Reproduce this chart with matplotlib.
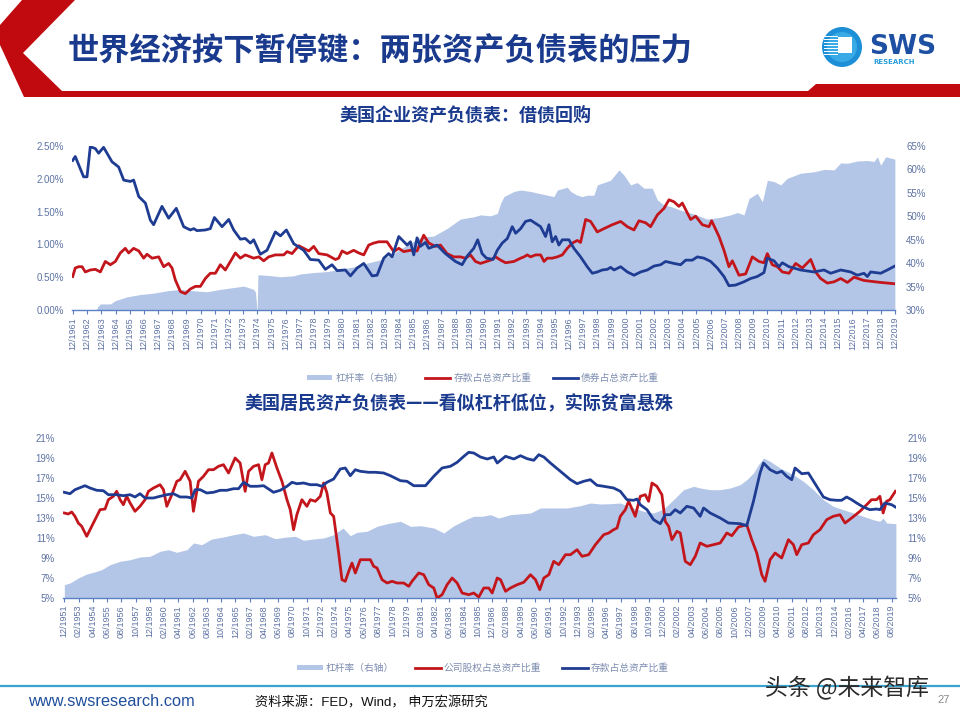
import matplotlib
matplotlib.use("Agg")
import matplotlib.pyplot as plt
from matplotlib.patches import Polygon, Circle, Rectangle, Patch
from matplotlib.lines import Line2D

CJK = ['Noto Sans CJK SC', 'DejaVu Sans']
LAT = ['Liberation Sans', 'DejaVu Sans']
MIX = ['Liberation Sans', 'Noto Sans CJK SC', 'DejaVu Sans']
plt.rcParams['font.family'] = CJK

# ---------------- data: chart 1 (US corporate balance sheet) ----------------
top_ticklabels = ["12/%d" % y for y in range(1961, 2020)]

bond_yr = [1961.90, 1962.08, 1962.67, 1962.91, 1963.14, 1963.50, 1963.73, 1964.08, 1964.67, 1965.14,
           1965.50, 1965.97, 1966.20, 1966.56, 1967.03, 1967.38, 1967.61, 1968.20, 1968.67, 1969.21,
           1969.73, 1970.20, 1970.44, 1970.67, 1971.26, 1971.61, 1971.90, 1972.44, 1972.91, 1973.26,
           1973.73, 1974.08, 1974.44, 1974.67, 1975.14, 1975.61, 1976.20, 1976.56, 1976.98, 1977.50,
           1978.20, 1978.67, 1979.26, 1979.73, 1980.20, 1980.56, 1981.14, 1981.50, 1981.97, 1982.44,
           1983.03, 1983.38, 1983.85, 1984.20, 1984.44, 1984.91, 1985.50, 1985.73, 1985.97, 1986.20,
           1986.44, 1986.79, 1987.03, 1987.61, 1988.20, 1988.91, 1989.38, 1989.73, 1990.20, 1990.48,
           1990.79, 1991.10, 1991.57, 1991.86, 1992.21, 1992.57, 1992.92, 1993.16, 1993.51, 1993.86,
           1994.21, 1994.57, 1994.92, 1995.27, 1995.51, 1995.74, 1995.98, 1996.21, 1996.45, 1996.92,
           1997.27, 1997.74, 1998.21, 1998.57, 1998.92, 1999.27, 1999.63, 1999.86, 2000.10, 2000.57,
           2001.04, 2001.51, 2001.98, 2002.45, 2002.92, 2003.39, 2003.74, 2004.33, 2004.80, 2005.16,
           2005.63, 2005.98, 2006.45, 2006.92, 2007.39, 2007.86, 2008.21, 2008.68, 2009.27, 2009.74,
           2010.21, 2010.68, 2010.92, 2011.39, 2011.74, 2011.98, 2012.45, 2013.27, 2014.21, 2014.92,
           2015.39, 2016.10, 2016.80, 2017.27, 2017.74, 2017.98, 2018.21, 2018.92, 2019.39, 2019.92]
bond_val = [2.28, 2.34, 2.03, 2.03, 2.49, 2.46, 2.39, 2.48, 2.26, 2.18,
            1.98, 1.96, 1.98, 1.73, 1.63, 1.37, 1.30, 1.58, 1.40, 1.55,
            1.27, 1.22, 1.24, 1.21, 1.22, 1.24, 1.41, 1.27, 1.38, 1.22,
            1.08, 1.09, 1.02, 1.07, 0.85, 0.91, 1.19, 1.13, 1.22, 1.01,
            0.91, 0.77, 0.76, 0.62, 0.69, 0.60, 0.61, 0.52, 0.64, 0.71,
            0.52, 0.53, 0.79, 0.86, 0.81, 1.12, 0.99, 1.04, 0.84, 1.10,
            0.97, 1.03, 0.94, 0.99, 0.86, 0.74, 0.69, 0.82, 0.94, 1.07,
            0.86, 0.79, 0.77, 0.91, 1.02, 1.09, 1.27, 1.17, 1.24, 1.35,
            1.37, 1.32, 1.27, 1.12, 1.30, 1.04, 1.12, 0.99, 1.07, 1.07,
            0.94, 0.81, 0.66, 0.56, 0.58, 0.61, 0.62, 0.65, 0.61, 0.66,
            0.58, 0.53, 0.58, 0.61, 0.67, 0.69, 0.74, 0.71, 0.69, 0.76,
            0.76, 0.81, 0.79, 0.74, 0.64, 0.51, 0.37, 0.38, 0.43, 0.48,
            0.51, 0.57, 0.79, 0.75, 0.66, 0.72, 0.66, 0.61, 0.58, 0.61,
            0.56, 0.61, 0.58, 0.53, 0.56, 0.51, 0.58, 0.56, 0.61, 0.67]

dep_yr = [1961.90, 1962.08, 1962.32, 1962.56, 1962.79, 1963.14, 1963.50, 1963.85, 1964.20, 1964.56,
          1964.91, 1965.26, 1965.61, 1965.85, 1966.20, 1966.56, 1966.91, 1967.14, 1967.50, 1967.97,
          1968.32, 1968.67, 1968.91, 1969.14, 1969.50, 1969.85, 1970.20, 1970.56, 1970.91, 1971.26,
          1971.61, 1971.97, 1972.32, 1972.67, 1973.03, 1973.38, 1973.73, 1974.08, 1974.44, 1974.67,
          1975.03, 1975.38, 1975.73, 1976.20, 1976.79, 1977.03, 1977.38, 1977.85, 1978.20, 1978.56,
          1978.91, 1979.26, 1979.85, 1980.44, 1980.67, 1980.91, 1981.26, 1981.73, 1982.08, 1982.44,
          1982.79, 1983.14, 1983.50, 1984.08, 1984.56, 1984.91, 1985.26, 1985.73, 1986.20, 1986.67,
          1987.03, 1987.50, 1987.85, 1988.32, 1988.79, 1989.26, 1989.61, 1989.97, 1990.32, 1990.68,
          1991.39, 1991.74, 1992.10, 1992.45, 1993.04, 1993.51, 1993.74, 1993.98, 1994.21, 1994.57,
          1994.92, 1995.16, 1995.39, 1995.74, 1996.10, 1996.45, 1996.80, 1997.16, 1997.51, 1997.74,
          1998.10, 1998.45, 1998.92, 1999.39, 1999.98, 2000.57, 2001.04, 2001.51, 2001.86, 2002.33,
          2002.68, 2003.16, 2003.63, 2003.98, 2004.33, 2004.68, 2004.92, 2005.51, 2005.86, 2006.33,
          2006.80, 2006.99, 2007.51, 2007.86, 2008.21, 2008.45, 2008.92, 2009.39, 2009.86, 2010.33,
          2010.68, 2010.92, 2011.27, 2011.63, 2011.98, 2012.45, 2012.92, 2013.39, 2013.98, 2014.33,
          2014.68, 2015.16, 2015.63, 2016.10, 2016.57, 2017.04, 2017.74, 2018.92, 2019.92]
dep_val = [0.51, 0.64, 0.66, 0.66, 0.58, 0.61, 0.62, 0.58, 0.74, 0.69,
           0.74, 0.87, 0.94, 0.87, 0.94, 0.90, 0.79, 0.85, 0.79, 0.81,
           0.66, 0.71, 0.64, 0.46, 0.28, 0.25, 0.32, 0.36, 0.36, 0.48,
           0.56, 0.56, 0.69, 0.61, 0.74, 0.87, 0.79, 0.84, 0.81, 0.79,
           0.81, 0.75, 0.81, 0.84, 0.84, 0.89, 0.86, 0.98, 0.94, 0.90,
           0.97, 0.86, 0.84, 0.77, 0.79, 0.90, 0.86, 0.91, 0.87, 0.84,
           0.99, 1.02, 1.04, 1.04, 0.89, 0.94, 0.89, 0.91, 0.90, 1.14,
           1.02, 0.97, 0.99, 0.86, 0.81, 0.81, 0.79, 0.84, 0.74, 0.71,
           0.76, 0.81, 0.76, 0.72, 0.74, 0.79, 0.81, 0.84, 0.81, 0.84,
           0.84, 0.74, 0.79, 0.79, 0.81, 0.84, 0.94, 1.02, 1.06, 1.03,
           1.38, 1.35, 1.19, 1.24, 1.30, 1.35, 1.27, 1.22, 1.36, 1.33,
           1.27, 1.45, 1.55, 1.68, 1.65, 1.58, 1.63, 1.38, 1.43, 1.30,
           1.27, 1.36, 1.12, 0.91, 0.66, 0.75, 0.53, 0.55, 0.81, 0.74,
           0.72, 0.86, 0.69, 0.66, 0.58, 0.56, 0.71, 0.64, 0.77, 0.58,
           0.48, 0.41, 0.43, 0.48, 0.42, 0.50, 0.45, 0.42, 0.40]

lev1_yr = [1961.85, 1963.50, 1963.66, 1963.85, 1964.56, 1964.91, 1965.73, 1966.67, 1967.61, 1968.56,
           1969.50, 1970.44, 1971.38, 1972.32, 1973.26, 1973.97, 1974.67, 1974.80, 1974.92, 1974.97,
           1975.10, 1975.61, 1976.56, 1977.50, 1977.97, 1978.91, 1979.85, 1980.79, 1981.73, 1982.67,
           1983.61, 1984.56, 1985.50, 1986.44, 1987.38, 1988.32, 1989.26, 1990.20, 1990.68, 1991.39,
           1991.86, 1992.10, 1992.33, 1993.04, 1993.51, 1994.21, 1995.39, 1995.86, 1996.10, 1996.80,
           1997.04, 1997.51, 1997.86, 1998.21, 1998.68, 1998.92, 1999.39, 1999.86, 2000.45, 2000.80,
           2001.27, 2001.74, 2002.21, 2002.80, 2003.16, 2003.63, 2004.10, 2004.80, 2005.74, 2006.68,
           2007.63, 2008.33, 2008.80, 2009.27, 2009.63, 2010.21, 2010.57, 2010.92, 2011.39, 2011.86,
           2012.33, 2013.27, 2014.21, 2014.92, 2015.63, 2016.10, 2016.57, 2017.27, 2017.98, 2018.45,
           2018.68, 2018.92, 2019.27, 2019.92]
lev1_val = [29.6, 29.6, 30.7, 31.3, 31.3, 32.0, 32.8, 33.3, 33.6, 34.1,
            34.4, 34.1, 33.9, 34.4, 34.8, 35.1, 34.4, 33.8, 29.5, 37.5,
            37.5, 37.4, 37.1, 37.3, 37.7, 38.0, 38.2, 38.7, 39.2, 40.0,
            40.7, 42.1, 43.9, 45.5, 45.8, 47.4, 49.4, 49.9, 50.3, 50.1,
            50.6, 52.8, 54.2, 55.3, 55.6, 55.3, 54.5, 54.2, 55.6, 56.2,
            55.3, 54.5, 54.2, 54.5, 54.5, 56.7, 57.2, 57.7, 59.9, 58.8,
            56.7, 57.2, 56.0, 56.0, 53.5, 52.4, 52.1, 51.3, 50.5, 49.4,
            49.8, 50.3, 50.8, 50.3, 53.8, 54.9, 53.1, 57.7, 57.4, 56.7,
            58.1, 59.2, 59.5, 60.0, 59.9, 61.4, 61.3, 61.8, 61.9, 61.7,
            62.7, 60.9, 62.7, 62.2]

# ---------------- data: chart 2 (US household balance sheet) ----------------
hdep_yr = [1951.92, 1952.38, 1952.79, 1953.61, 1954.02, 1954.57, 1955.11, 1955.52, 1956.20, 1956.75,
           1957.30, 1957.70, 1958.11, 1958.52, 1959.21, 1959.75, 1960.30, 1960.84, 1961.39, 1961.94,
           1962.35, 1962.62, 1963.03, 1963.57, 1964.12, 1964.67, 1965.21, 1965.76, 1966.17, 1966.58,
           1967.12, 1967.67, 1968.22, 1968.62, 1969.03, 1969.58, 1970.13, 1970.54, 1970.94, 1971.49,
           1972.04, 1972.58, 1972.99, 1973.40, 1973.95, 1974.49, 1974.90, 1975.31, 1975.72, 1976.13,
           1976.82, 1977.36, 1978.04, 1978.59, 1979.41, 1979.95, 1980.50, 1981.05, 1981.46, 1982.14,
           1982.82, 1983.50, 1984.05, 1984.60, 1985.00, 1985.41, 1985.96, 1986.51, 1987.05, 1987.33,
           1988.01, 1988.69, 1989.23, 1989.78, 1990.32, 1990.73, 1991.14, 1991.68, 1992.50, 1993.32,
           1993.86, 1994.40, 1994.95, 1995.49, 1996.04, 1996.85, 1997.40, 1997.94, 1998.49, 1998.76,
           1999.03, 1999.58, 2000.12, 2000.67, 2001.07, 2001.48, 2001.89, 2002.30, 2002.84, 2003.39,
           2003.93, 2004.21, 2004.75, 2005.57, 2006.25, 2007.20, 2007.74, 2008.29, 2008.83, 2009.11,
           2009.65, 2010.20, 2010.60, 2011.01, 2011.42, 2011.69, 2012.24, 2012.78, 2013.46, 2014.01,
           2014.55, 2015.10, 2015.50, 2015.91, 2016.32, 2016.73, 2017.27, 2017.82, 2018.36, 2018.63,
           2019.04, 2019.59, 2019.90]
hdep_val = [15.57, 15.43, 15.83, 16.23, 16.00, 15.77, 15.73, 15.33, 15.33, 15.23,
            15.33, 15.10, 15.43, 15.00, 15.00, 15.17, 15.33, 15.43, 15.10, 15.10,
            15.00, 15.83, 15.83, 15.50, 15.57, 15.77, 15.77, 15.93, 15.93, 16.57,
            16.17, 16.17, 16.23, 15.90, 15.57, 15.77, 16.17, 16.57, 16.43, 16.50,
            16.33, 16.33, 16.17, 16.57, 16.90, 17.90, 18.00, 17.23, 17.83, 17.67,
            17.57, 17.57, 17.50, 17.23, 16.73, 16.67, 16.23, 16.23, 16.23, 17.17,
            18.00, 18.17, 18.57, 19.17, 19.57, 19.50, 19.10, 18.90, 19.10, 18.50,
            19.17, 18.90, 19.23, 18.93, 18.77, 19.33, 19.10, 18.50, 17.67, 16.83,
            16.43, 16.67, 16.83, 16.27, 16.17, 16.00, 15.67, 14.83, 14.77, 14.90,
            14.33, 13.83, 12.83, 12.43, 13.33, 13.33, 13.83, 13.50, 14.17, 14.00,
            13.17, 14.00, 13.50, 13.00, 12.50, 12.43, 12.23, 14.67, 17.50, 18.50,
            17.83, 17.50, 17.67, 17.17, 16.83, 18.00, 17.43, 17.50, 16.17, 15.10,
            14.83, 14.77, 14.77, 15.10, 14.83, 14.50, 14.10, 13.83, 13.90, 13.83,
            14.50, 14.33, 14.10]

equity_yr = [1951.92, 1952.24, 1952.52, 1952.79, 1953.06, 1953.34, 1953.75, 1954.16, 1954.57, 1954.84,
             1955.25, 1955.52, 1955.93, 1956.20, 1956.48, 1956.75, 1957.02, 1957.30, 1957.70, 1958.11,
             1958.52, 1958.80, 1959.21, 1959.48, 1959.75, 1960.03, 1960.30, 1960.71, 1961.12, 1961.39,
             1961.80, 1962.21, 1962.48, 1962.89, 1963.30, 1963.71, 1964.12, 1964.53, 1964.94, 1965.35,
             1965.89, 1966.30, 1966.71, 1966.99, 1967.40, 1967.81, 1968.08, 1968.35, 1968.62, 1968.90,
             1969.31, 1969.72, 1970.13, 1970.40, 1970.67, 1970.94, 1971.35, 1971.76, 1972.04, 1972.45,
             1972.86, 1973.13, 1973.40, 1973.68, 1973.95, 1974.36, 1974.63, 1974.90, 1975.18, 1975.45,
             1975.72, 1976.13, 1976.54, 1976.95, 1977.22, 1977.50, 1977.91, 1978.32, 1978.73, 1979.14,
             1979.68, 1980.09, 1980.36, 1980.91, 1981.32, 1981.73, 1982.14, 1982.41, 1982.82, 1983.23,
             1983.64, 1984.05, 1984.46, 1985.00, 1985.41, 1985.82, 1986.23, 1986.64, 1986.92, 1987.33,
             1987.60, 1988.01, 1988.41, 1988.96, 1989.50, 1990.05, 1990.46, 1990.81, 1991.14, 1991.55,
             1991.95, 1992.36, 1992.91, 1993.32, 1993.86, 1994.27, 1994.81, 1995.36, 1996.04, 1996.45,
             1996.85, 1997.13, 1997.40, 1997.81, 1998.08, 1998.62, 1999.03, 1999.44, 1999.71, 1999.99,
             2000.39, 2000.80, 2001.07, 2001.35, 2001.62, 2002.03, 2002.30, 2002.71, 2003.12, 2003.53,
             2003.93, 2004.48, 2005.02, 2005.57, 2006.11, 2006.52, 2007.06, 2007.74, 2008.15, 2008.56,
             2008.97, 2009.24, 2009.65, 2010.06, 2010.60, 2011.15, 2011.56, 2011.83, 2012.24, 2012.78,
             2013.19, 2013.73, 2014.28, 2014.82, 2015.37, 2015.78, 2016.32, 2017.00, 2017.55, 2017.95,
             2018.36, 2018.63, 2018.90, 2019.18, 2019.45, 2019.90]
equity_val = [13.50, 13.40, 13.60, 13.17, 12.50, 12.17, 11.17, 12.17, 13.17, 13.83,
              13.90, 14.83, 15.17, 15.67, 14.83, 14.33, 15.17, 14.50, 13.67, 14.17,
              14.83, 15.67, 16.00, 16.17, 16.33, 15.83, 14.17, 15.33, 16.67, 16.83,
              17.67, 16.67, 13.67, 16.67, 17.17, 17.83, 17.83, 18.17, 18.33, 17.50,
              19.00, 18.50, 15.67, 17.67, 18.17, 18.33, 16.83, 18.33, 18.50, 19.50,
              18.00, 16.67, 14.83, 13.83, 11.83, 13.33, 14.83, 14.17, 14.83, 14.67,
              15.17, 16.50, 15.50, 13.50, 13.17, 9.50, 6.83, 6.67, 7.67, 8.50,
              7.50, 8.83, 8.83, 8.83, 8.17, 8.00, 6.83, 6.50, 6.67, 6.50,
              6.50, 6.17, 6.67, 7.50, 7.33, 6.33, 6.00, 5.00, 5.33, 6.33,
              7.00, 6.50, 5.50, 5.33, 5.50, 5.10, 6.00, 6.00, 5.50, 7.00,
              6.83, 5.67, 6.00, 6.33, 6.57, 7.33, 6.83, 5.83, 7.00, 7.33,
              8.67, 8.33, 9.33, 9.33, 9.83, 9.17, 9.33, 10.33, 11.33, 11.50,
              11.83, 12.00, 13.17, 13.83, 14.67, 13.17, 15.17, 15.33, 14.67, 16.50,
              16.17, 15.33, 12.67, 12.17, 10.83, 11.67, 11.50, 8.67, 8.33, 9.17,
              10.50, 10.17, 10.33, 10.50, 11.50, 11.23, 12.10, 12.33, 10.83, 9.50,
              7.33, 6.67, 8.83, 9.50, 9.00, 10.83, 10.33, 9.33, 10.33, 10.50,
              11.33, 11.83, 12.83, 13.17, 13.33, 12.50, 13.00, 13.67, 14.33, 14.83,
              14.83, 15.17, 13.50, 14.67, 14.83, 15.67]

lev2_yr = [1951.92, 1952.38, 1953.06, 1953.75, 1954.29, 1954.97, 1955.66, 1956.48, 1957.30, 1958.11,
           1958.93, 1959.75, 1960.43, 1961.12, 1961.94, 1962.48, 1963.16, 1963.98, 1964.94, 1965.76,
           1966.58, 1967.40, 1968.35, 1969.17, 1970.13, 1970.81, 1971.49, 1972.31, 1973.13, 1973.95,
           1974.71, 1975.31, 1975.86, 1976.68, 1977.50, 1978.32, 1979.41, 1980.23, 1981.05, 1982.14,
           1982.96, 1983.78, 1984.87, 1985.41, 1986.10, 1986.78, 1987.46, 1988.41, 1990.05, 1990.86,
           1991.68, 1993.04, 1994.13, 1994.95, 1995.77, 1996.58, 1997.40, 1998.22, 1999.30, 2000.12,
           2000.94, 2001.75, 2002.57, 2003.39, 2003.93, 2004.75, 2005.57, 2006.38, 2007.20, 2007.74,
           2008.29, 2008.70, 2009.11, 2009.65, 2010.47, 2011.56, 2012.37, 2013.19, 2014.01, 2014.82,
           2015.64, 2016.46, 2017.27, 2018.09, 2018.63, 2018.90, 2019.18, 2019.94]
lev2_val = [6.33, 6.50, 7.00, 7.40, 7.57, 7.83, 8.33, 8.67, 8.83, 9.10,
            9.17, 9.67, 9.83, 9.57, 9.83, 10.50, 10.33, 10.90, 11.10, 11.33,
            11.50, 11.17, 11.33, 10.93, 11.10, 11.17, 10.77, 10.90, 11.00, 11.33,
            12.00, 11.23, 11.57, 11.67, 12.17, 12.43, 12.67, 12.17, 12.23, 12.00,
            11.50, 12.23, 12.90, 13.17, 13.17, 13.33, 13.00, 13.33, 13.50, 14.00,
            14.00, 14.00, 14.23, 14.50, 14.40, 14.43, 14.50, 14.10, 13.67, 13.50,
            13.90, 14.83, 15.83, 16.17, 16.00, 15.83, 15.83, 16.00, 16.33, 16.83,
            17.50, 18.33, 19.00, 18.67, 18.00, 17.33, 16.67, 15.83, 14.83, 14.17,
            13.83, 13.50, 13.17, 12.83, 12.67, 13.00, 12.50, 12.43]

# tick labels of chart 2: every 14 months from 12/1951
bot_ticklabels = []
bot_tickpos = []
for k in range(59):
    m = 1951 * 12 + 11 + 14 * k
    bot_ticklabels.append("%02d/%d" % (m % 12 + 1, m // 12))
    bot_tickpos.append(m / 12.0)
top_tickpos = [1961.92 + k for k in range(59)]

# ---------------- style ----------------
NAVY = '#1f3c93'
RED = '#c3161c'
AREA = '#b3c6e7'
TICKC = '#5d72a3'
AXISC = '#5b7fc4'
TITLEC = '#1a3a8e'

fig = plt.figure(figsize=(9.6, 7.2), dpi=100)
W, H = 960.0, 720.0

def fx(px):
    return px / W

def fy(py):
    return 1 - py / H

# ---------------- header decoration ----------------
deco = fig.add_axes([0, 0, 1, 1], zorder=-5)
deco.set_xlim(0, W)
deco.set_ylim(H, 0)
deco.axis('off')
deco.add_patch(Polygon([(22, 0), (75, 0), (23, 53), (62, 91), (808, 91), (816, 84), (960, 84),
                        (960, 97), (24, 97), (0, 45), (0, 25)], closed=True,
                       facecolor='#c00a10', edgecolor='none'))
# logo
deco.add_patch(Circle((842, 47), 20, facecolor='#1d8fd6', edgecolor='none'))
deco.add_patch(Circle((842, 47), 15, facecolor='#3aaae6', edgecolor='none'))
for i in range(7):
    yy = 36 + i * 3
    deco.add_patch(Rectangle((824, yy), 14, 1.3, facecolor='white', edgecolor='none'))
deco.add_patch(Rectangle((838, 37), 14, 16, facecolor='white', edgecolor='none'))
deco.text(869, 54, 'SWS', fontsize=19, fontweight='bold', color='#1d4fa3',
          family=['DejaVu Sans'], va='baseline', ha='left')
deco.text(873, 64.5, 'RESEARCH', fontsize=5, fontweight='bold', color='#2a9fdc',
          family=['DejaVu Sans'], va='baseline', ha='left')
# footer line
deco.plot([0, 960], [686, 686], color='#3aa3cf', lw=1.6)

fig.text(fx(68), fy(52), '世界经济按下暂停键：两张资产负债表的压力', fontsize=22.5,
         fontweight='bold', color=TITLEC, va='center', ha='left', family=CJK)

# ---------------- chart 1 ----------------
ax1 = fig.add_axes([fx(72), fy(310), fx(895 - 72), (310 - 146) / H])
ax1r = ax1.twinx()
ax1r.fill_between(lev1_yr, 0, lev1_val, color=AREA, lw=0)
ax1r.set_ylim(30, 65)
ax1.plot(dep_yr, dep_val, color=RED, lw=2.0, zorder=3)
ax1.plot(bond_yr, bond_val, color=NAVY, lw=2.0, zorder=4)
ax1.set_ylim(0, 2.5)
ax1.set_xlim(1961.85, 2019.93)
ax1.set_zorder(ax1r.get_zorder() + 1)
ax1.patch.set_visible(False)
ax1.set_yticks([0, 0.5, 1.0, 1.5, 2.0, 2.5])
ax1.set_yticklabels(['0.00%', '0.50%', '1.00%', '1.50%', '2.00%', '2.50%'])
ax1r.set_yticks([30, 35, 40, 45, 50, 55, 60, 65])
ax1r.set_yticklabels(['%d%%' % v for v in [30, 35, 40, 45, 50, 55, 60, 65]])
ax1.set_xticks(top_tickpos)
ax1.set_xticklabels(top_ticklabels, rotation=90)

# ---------------- chart 2 ----------------
ax2 = fig.add_axes([fx(63), fy(598), fx(896 - 63), (598 - 438) / H])
ax2r = ax2.twinx()
ax2r.fill_between(lev2_yr, 0, lev2_val, color=AREA, lw=0)
ax2r.set_ylim(5, 21)
ax2.plot(equity_yr, equity_val, color=RED, lw=2.0, zorder=3)
ax2.plot(hdep_yr, hdep_val, color=NAVY, lw=2.0, zorder=4)
ax2.set_ylim(5, 21)
ax2.set_xlim(1951.81, 2019.95)
ax2.set_zorder(ax2r.get_zorder() + 1)
ax2.patch.set_visible(False)
yt2 = [5, 7, 9, 11, 13, 15, 17, 19, 21]
ax2.set_yticks(yt2)
ax2.set_yticklabels(['%d%%' % v for v in yt2])
ax2r.set_yticks(yt2)
ax2r.set_yticklabels(['%d%%' % v for v in yt2])
ax2.set_xticks(bot_tickpos)
ax2.set_xticklabels(bot_ticklabels, rotation=90)

for a in (ax1, ax1r, ax2, ax2r):
    for s in ('top', 'left', 'right', 'bottom'):
        a.spines[s].set_visible(False)
    a.tick_params(axis='y', length=0, labelsize=7, labelcolor=TICKC, pad=6)
    for lab in a.get_yticklabels():
        lab.set_family(LAT)
for a in (ax1, ax2):
    a.spines['bottom'].set_visible(True)
    a.spines['bottom'].set_color(AXISC)
    a.spines['bottom'].set_linewidth(1.0)
    a.tick_params(axis='x', length=3, color=AXISC, labelsize=6.5, labelcolor=TICKC, pad=2)
    for lab in a.get_xticklabels():
        lab.set_family(LAT)
ax1r.tick_params(axis='y', pad=8)
ax2r.tick_params(axis='y', pad=8)

# chart titles
fig.text(fx(465), fy(115), '美国企业资产负债表：借债回购', fontsize=13, fontweight='bold',
         color=TITLEC, ha='center', va='center', family=CJK)
fig.text(fx(459), fy(404), '美国居民资产负债表——看似杠杆低位，实际贫富悬殊', fontsize=13,
         fontweight='bold', color=TITLEC, ha='center', va='center', family=CJK)

# legends
leg_kw = dict(ncol=3, frameon=False, handlelength=2.6, handleheight=0.5,
              columnspacing=2.2, handletextpad=0.3, labelcolor='#7d8db0',
              prop={'family': MIX, 'size': 7})
h1 = [Patch(facecolor=AREA, edgecolor='none'), Line2D([], [], color=RED, lw=2),
      Line2D([], [], color=NAVY, lw=2)]
fig.legend(h1, ['杠杆率（右轴）', '存款占总资产比重', '债券占总资产比重'], loc='center',
           bbox_to_anchor=(fx(483), fy(378)), **leg_kw)
fig.legend(h1, ['杠杆率（右轴）', '公司股权占总资产比重', '存款占总资产比重'], loc='center',
           bbox_to_anchor=(fx(483), fy(668)), **leg_kw)

# footer
fig.text(fx(28), fy(702), 'www.swsresearch.com', fontsize=11.8, color='#1f4e9c',
         ha='left', va='center', family=LAT)
fig.text(fx(255), fy(703), '资料来源：FED，Wind， 申万宏源研究', fontsize=9.5, color='#111111',
         ha='left', va='center', family=MIX)
fig.text(fx(944), fy(700), '27', fontsize=8, color='#8a8a8a', ha='center', va='center', family=LAT)
fig.text(fx(765), fy(688), '头条 @未来智库', fontsize=16.5, color='#2a2a2a',
         ha='left', va='center', family=CJK)

fig.savefig('out.png', dpi=100, facecolor='white')
